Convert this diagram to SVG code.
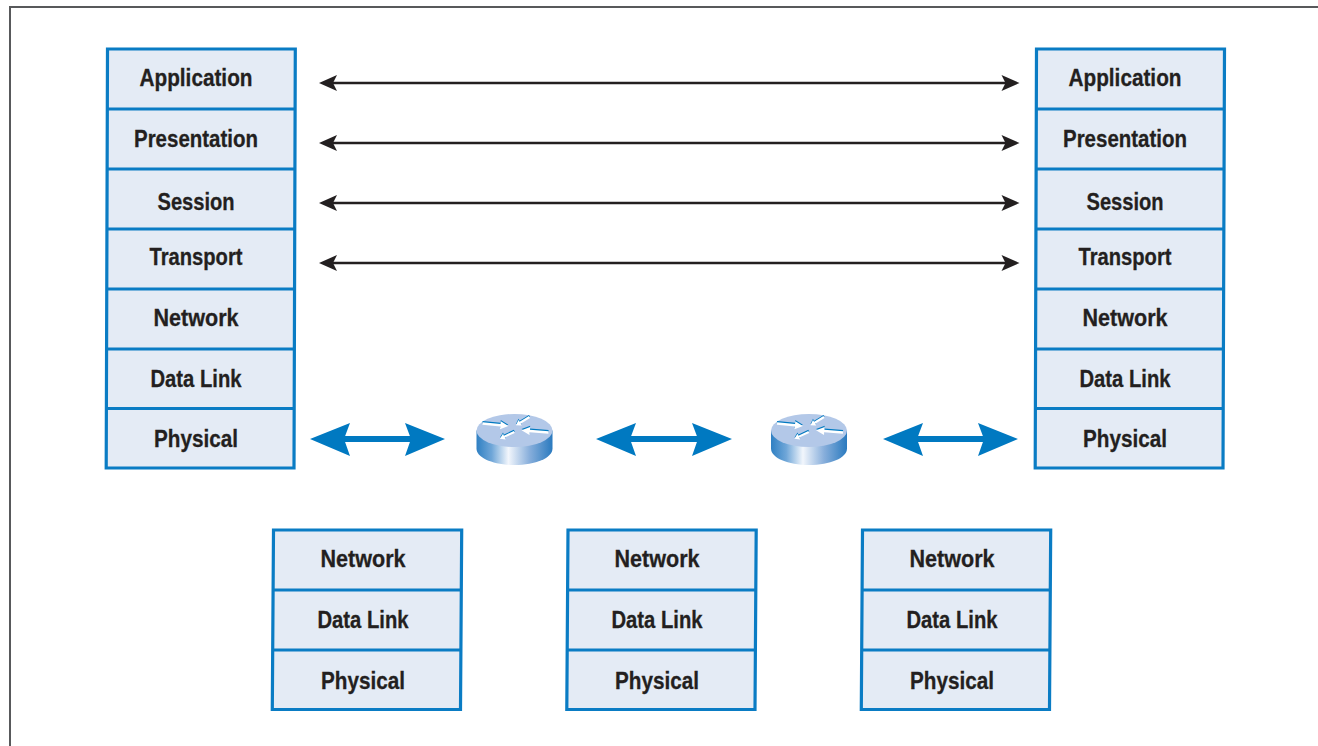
<svg xmlns="http://www.w3.org/2000/svg" width="1318" height="746" viewBox="0 0 1318 746">
<style>
.cell{fill:#e4ebf5;stroke:#0a7cc4;stroke-width:3.200}
.ln{stroke:#0a7cc4;stroke-width:3;fill:none}
.t{font-family:"Liberation Sans",Arial,sans-serif;font-weight:700;font-size:24px;fill:#231f20;stroke:#231f20;stroke-width:.3;text-anchor:middle}
.k{stroke:#231f20;stroke-width:2.400;fill:none}
.kh{fill:#231f20}
.b{stroke:#0079c1;stroke-width:6;fill:none}
.bh{fill:#0079c1}
</style>
<defs>
<linearGradient id="rg" x1="0" x2="1" y1="0" y2="0">
<stop offset="0" stop-color="#2f80c3"/><stop offset=".2" stop-color="#6fa6d8"/><stop offset=".42" stop-color="#f2f6fc"/><stop offset=".7" stop-color="#87aedb"/><stop offset="1" stop-color="#2a7abf"/>
</linearGradient>
<path id="a1" d="M0 -1.300H18V-4L26 0L18 4V1.300H0Z"/>
<g id="arrows">
<use href="#a1" transform="translate(-32 -15.500) rotate(5.500)"/>
<use href="#a1" transform="translate(15 -22) rotate(148.400) scale(.61 .8)"/>
<use href="#a1" transform="translate(34 -6.500) rotate(184.700) scale(1.040 1)"/>
<use href="#a1" transform="translate(-.2 -7) rotate(155) scale(.61 .8)"/>
</g>
<g id="router">
<path d="M-38 -8.500V9.500C-38 19 -21 26 0 26S38 19 38 9.500V-8.500Z" fill="url(#rg)"/>
<ellipse cx="0" cy="-8.500" rx="38" ry="16.500" fill="#b3c8e8"/>
<use href="#arrows" y="-1.200" fill="#0079c1"/>
<use href="#arrows" fill="#fff"/>
</g>
</defs>
<rect width="1318" height="746" fill="#fff"/>
<path id="frame" d="M10 746V7H1318" fill="none" stroke="#58595b" stroke-width="2"/>

<g id="stack-left">
<path class="cell" d="M107.500 49H295.300L294 468H106.200Z"/>
<path class="ln" d="M107.300 109H295.100M107.100 169H294.900M107 229H294.800M106.800 289H294.600M106.600 349H294.400M106.400 408.500H294.200"/>
<text class="t" x="196" y="86" textLength="113" lengthAdjust="spacingAndGlyphs">Application</text>
<text class="t" x="196" y="147" textLength="124" lengthAdjust="spacingAndGlyphs">Presentation</text>
<text class="t" x="196" y="210" textLength="77" lengthAdjust="spacingAndGlyphs">Session</text>
<text class="t" x="196" y="265" textLength="93" lengthAdjust="spacingAndGlyphs">Transport</text>
<text class="t" x="196" y="326" textLength="85" lengthAdjust="spacingAndGlyphs">Network</text>
<text class="t" x="196" y="387" textLength="91" lengthAdjust="spacingAndGlyphs">Data Link</text>
<text class="t" x="196" y="447" textLength="84" lengthAdjust="spacingAndGlyphs">Physical</text>
</g>
<g id="stack-right">
<path class="cell" d="M1036.500 49H1224.500L1223 468H1035.200Z"/>
<path class="ln" d="M1036.300 109H1224.300M1036.100 169H1224.100M1036 229H1223.900M1035.800 289H1223.700M1035.600 349H1223.500M1035.400 408.500H1223.200"/>
<text class="t" x="1125" y="86" textLength="113" lengthAdjust="spacingAndGlyphs">Application</text>
<text class="t" x="1125" y="147" textLength="124" lengthAdjust="spacingAndGlyphs">Presentation</text>
<text class="t" x="1125" y="210" textLength="77" lengthAdjust="spacingAndGlyphs">Session</text>
<text class="t" x="1125" y="265" textLength="93" lengthAdjust="spacingAndGlyphs">Transport</text>
<text class="t" x="1125" y="326" textLength="85" lengthAdjust="spacingAndGlyphs">Network</text>
<text class="t" x="1125" y="387" textLength="91" lengthAdjust="spacingAndGlyphs">Data Link</text>
<text class="t" x="1125" y="447" textLength="84" lengthAdjust="spacingAndGlyphs">Physical</text>
</g>
<g id="stack-a">
<path class="cell" d="M273.500 530H461.700L460.500 709.500H272.300Z"/>
<path class="ln" d="M273.100 590H461.300M272.700 650H460.900"/>
<text class="t" x="363" y="567" textLength="85" lengthAdjust="spacingAndGlyphs">Network</text>
<text class="t" x="363" y="628" textLength="91" lengthAdjust="spacingAndGlyphs">Data Link</text>
<text class="t" x="363" y="689" textLength="84" lengthAdjust="spacingAndGlyphs">Physical</text>
</g>
<g id="stack-b">
<path class="cell" d="M568 530H756.200L755 709.500H566.800Z"/>
<path class="ln" d="M567.600 590H755.800M567.200 650H755.400"/>
<text class="t" x="657" y="567" textLength="85" lengthAdjust="spacingAndGlyphs">Network</text>
<text class="t" x="657" y="628" textLength="91" lengthAdjust="spacingAndGlyphs">Data Link</text>
<text class="t" x="657" y="689" textLength="84" lengthAdjust="spacingAndGlyphs">Physical</text>
</g>
<g id="stack-c">
<path class="cell" d="M862.500 530H1050.700L1049.500 709.500H861.300Z"/>
<path class="ln" d="M862.100 590H1050.300M861.700 650H1049.900"/>
<text class="t" x="952" y="567" textLength="85" lengthAdjust="spacingAndGlyphs">Network</text>
<text class="t" x="952" y="628" textLength="91" lengthAdjust="spacingAndGlyphs">Data Link</text>
<text class="t" x="952" y="689" textLength="84" lengthAdjust="spacingAndGlyphs">Physical</text>
</g>
<g id="router-1"><use href="#router" x="514.500" y="439"/></g>
<g id="router-2"><use href="#router" x="809" y="439"/></g>
<g id="connectors">
<path class="k" d="M325 83H1012M325 143H1012M325 203H1012M325 263H1012"/>
<path class="kh" d="M319 83L337 75L333 83L337 91ZM1019.500 83L1001.500 75L1005.500 83L1001.500 91ZM319 143L337 135L333 143L337 151ZM1019.500 143L1001.500 135L1005.500 143L1001.500 151ZM319 203L337 195L333 203L337 211ZM1019.500 203L1001.500 195L1005.500 203L1001.500 211ZM319 263L337 255L333 263L337 271ZM1019.500 263L1001.500 255L1005.500 263L1001.500 271Z"/>
<path class="b" d="M340 439H415M626 439H702M912 439H988"/>
<path class="bh" d="M310 439L350 423L344 439L350 456ZM445 439L405 423L411 439L405 456ZM596 439L636 423L630 439L636 456ZM732 439L692 423L698 439L692 456ZM883 439L923 423L917 439L923 456ZM1018 439L978 423L984 439L978 456Z"/>
</g>
</svg>
